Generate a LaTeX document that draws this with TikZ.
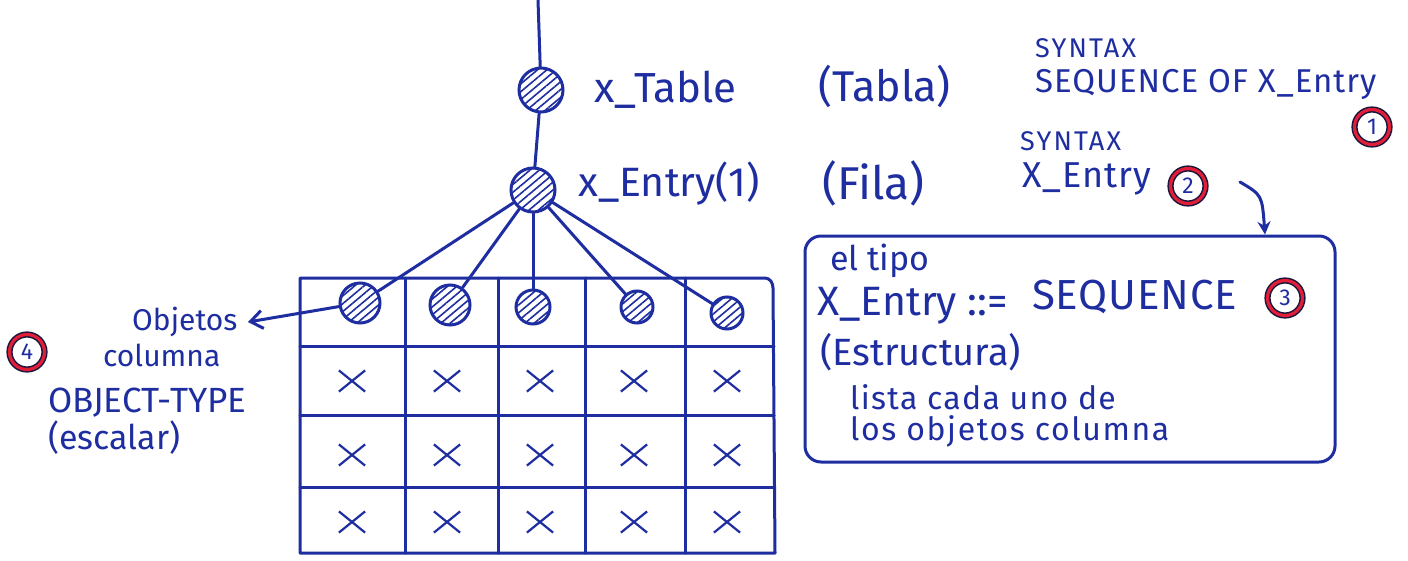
\documentclass[tikz,border=0pt]{standalone}
\usepackage{fontspec}
\setmainfont{Fira Sans}
\usetikzlibrary{patterns.meta,arrows.meta,shapes.misc}
\definecolor{ink}{RGB}{30,45,160}
\definecolor{redink}{RGB}{225,30,55}
\definecolor{darkring}{RGB}{25,20,60}
\newcommand{\fs}[1]{\fontsize{#1}{#1}\selectfont}
\newcommand{\fsl}[2]{\fontsize{#1}{#1}\selectfont\addfontfeature{LetterSpace=#2}}
\begin{document}
\begin{tikzpicture}[x=1pt,y=-1pt,
  pen/.style={draw=ink,line width=3pt,line cap=round,line join=round},
  hatchc/.style={circle,draw=ink,line width=3pt,inner sep=0pt,
    pattern={Lines[angle=40,distance=6pt,line width=1.6pt]},pattern color=ink},
  numc/.style={circle,draw=darkring,double=redink,double distance=3.2pt,line width=1.5pt,
    inner sep=0pt,minimum size=35pt,text=ink,font=\fs{23}},
  lbl/.style={text=ink,anchor=west,inner sep=0pt},
  crossm/.style={cross out,draw=ink,line width=2.2pt,inner sep=0pt,minimum width=24pt,minimum height=19pt}
]
\useasboundingbox (0,0) rectangle (1408,560);
\fill[white] (0,0) rectangle (1408,560);

% ---- tree ----
\coordinate (top) at (538,0);
\node[hatchc,minimum size=44pt] (tbl) at (541,90) {};
\node[hatchc,minimum size=44pt] (ent) at (533,190) {};
\node[hatchc,minimum size=40pt] (c1) at (360,303) {};
\node[hatchc,minimum size=40pt] (c2) at (450,305) {};
\node[hatchc,minimum size=34pt] (c3) at (533,307) {};
\node[hatchc,minimum size=32pt] (c4) at (637,307) {};
\node[hatchc,minimum size=32pt] (c5) at (727,313) {};
\draw[pen] (top) -- (tbl);
\draw[pen] (tbl) -- (ent);
\foreach \c in {c1,c2,c3,c4,c5} \draw[pen] (ent) -- (\c);

\node[lbl,font=\fs{42}] (ltbl) at (594,90) {x\_Table};
\node[lbl,font=\fs{43}] (ltabla) at (818,86) {(Tabla)};
\node[lbl,font=\fs{41}] (lent) at (578,184) {x\_Entry(1)};
\node[lbl,font=\fs{46}] (lfila) at (822,183) {(Fila)};

% ---- table grid ----
\draw[pen] (300,278) -- (765,278) to[out=0,in=90] (773,288) -- (775,553) -- (300,553) -- cycle;
\foreach \y in {346,415,487} \draw[pen] (300,\y) -- (774,\y);
\foreach \x in {405,498,585,685} \draw[pen] (\x,278) -- (\x,553);
\foreach \x/\i in {352/1,447/2,540/3,634/4,727/5}{
  \node[crossm] (xa\i) at (\x,381) {};
  \node[crossm] (xb\i) at (\x,455) {};
  \node[crossm] (xc\i) at (\x,522) {};
}

% ---- left labels ----
\node[lbl,font=\fs{30}] (lobj) at (132,322) {Objetos};
\node[lbl,font=\fs{30}] (lcol) at (103,355) {columna};
\coordinate (objtip) at (248,322);
\draw[pen,-{Straight Barb[length=12pt,width=18pt,line width=3pt]}] (c1) -- (objtip);
\node[numc] (n4) at (27,352) {4};
\node[lbl,font=\fs{35}] (lot) at (48,403) {OBJECT-TYPE};
\node[lbl,font=\fs{34}] (lesc) at (48,438) {(escalar)};

% ---- right top ----
\node[lbl,font=\fsl{27}{8}] (syn1) at (1035,48) {SYNTAX};
\node[lbl,font=\fsl{33}{3}] (seq) at (1035,84) {SEQUENCE OF X\_Entry};
\node[numc] (n1) at (1372,127) {1};
\node[lbl,font=\fsl{27}{8}] (syn2) at (1020,141) {SYNTAX};
\node[lbl,font=\fsl{36}{3}] (xent) at (1022,179) {X\_Entry};
\node[numc] (n2) at (1188,186) {2};

% ---- box ----
\node[draw=ink,line width=3pt,rounded corners=16pt,minimum width=530pt,minimum height=226pt,
  inner sep=0pt] (box) at (1070,349) {};
\coordinate (arrs) at (1240,182);
\draw[pen,-{Stealth[length=13pt,width=13pt]}] (arrs) .. controls (1262,195) .. (box.north -| 1265,0);
\node[lbl,font=\fs{34}] (ltipo) at (830,261) {el tipo};
\node[lbl,font=\fs{41}] (lxe) at (817,306) {X\_Entry ::=};
\node[lbl,font=\fsl{42}{2}] (lseq) at (1032,297) {SEQUENCE};
\node[numc] (n3) at (1285,298) {3};
\node[lbl,font=\fs{38}] (lest) at (820,352) {(Estructura)};
\node[lbl,font=\fsl{32}{4}] (llis) at (850,397) {lista cada uno de};
\node[lbl,font=\fsl{32}{5}] (llos) at (850,431) {los objetos columna};
\end{tikzpicture}
\end{document}
